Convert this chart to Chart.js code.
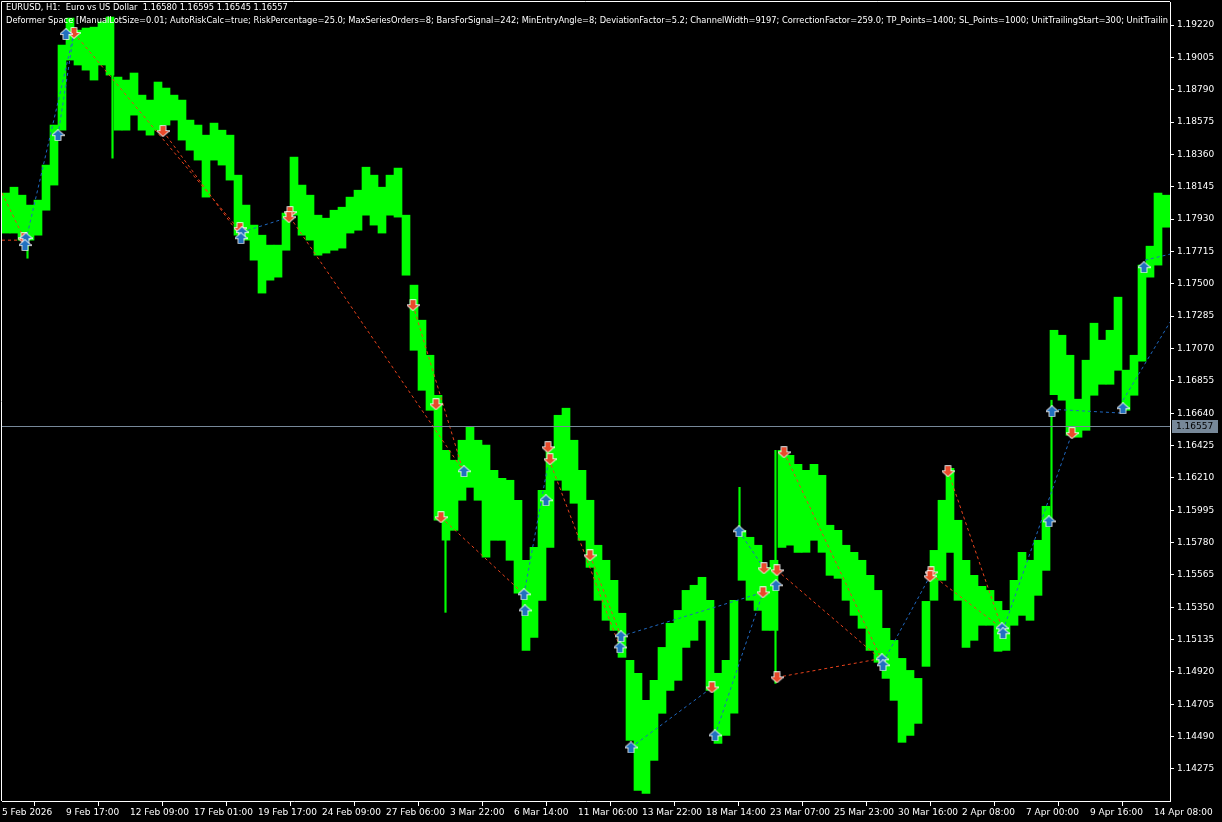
<!DOCTYPE html>
<html><head><meta charset="utf-8">
<script src="https://cdn.jsdelivr.net/npm/chart.js@4.4.1/dist/chart.umd.min.js"></script>
<style>html,body{margin:0;padding:0;background:#000;overflow:hidden}#wrap{width:1222px;height:822px;position:relative}canvas{display:block}</style>
</head><body><div id="wrap"><canvas id="c" width="1222" height="822"></canvas></div>
<script>
// ---------- text ----------
const symbolTitle = "EURUSD, H1:  Euro vs US Dollar  1.16580 1.16595 1.16545 1.16557";
const expertTitle = "Deformer Space [ManualLotSize=0.01; AutoRiskCalc=true; RiskPercentage=25.0; MaxSeriesOrders=8; BarsForSignal=242; MinEntryAngle=8; DeviationFactor=5.2; ChannelWidth=9197; CorrectionFactor=259.0; TP_Points=1400; SL_Points=1000; UnitTrailingStart=300; UnitTrailin";

// ---------- price bars (each entry = 8 H1 bars, high / low) ----------
const hoursPerBar = 8;
const barHigh = [
1.18103,1.18142,1.18089,1.18023,1.18056,1.18289,1.18555,1.19087,1.19266,1.19186,
1.19200,1.19206,1.19240,1.19273,1.18874,1.18854,1.18901,1.18754,1.18721,1.18841,
1.18801,1.18754,1.18721,1.18588,1.18555,1.18488,1.18568,1.18521,1.18488,1.18222,
1.18023,1.17890,1.17823,1.17757,1.17757,1.17970,1.18342,1.18156,1.18089,1.17956,
1.17936,1.17989,1.18009,1.18076,1.18122,1.18275,1.18222,1.18142,1.18222,1.18269,
1.17956,1.17491,1.17258,1.17025,1.16759,1.16393,1.16327,1.16460,1.16546,1.16460,
1.16427,1.16260,1.16207,1.16194,1.16061,1.15662,1.15748,1.16127,1.16413,1.16626,
1.16673,1.16460,1.16260,1.16061,1.15762,1.15662,1.15529,1.15310,1.14997,1.14911,
1.14731,1.14864,1.15083,1.15243,1.15329,1.15462,1.15496,1.15549,1.15396,1.14911,
1.14997,1.15396,1.15861,1.15815,1.15762,1.15615,1.15662,1.16393,1.16360,1.16300,
1.16260,1.16300,1.16227,1.15895,1.15861,1.15762,1.15715,1.15662,1.15562,1.15462,
1.15210,1.15130,1.15010,1.14930,1.14877,1.15389,1.15728,1.16061,1.16274,1.15928,
1.15662,1.15562,1.15489,1.15462,1.15389,1.15329,1.15529,1.15715,1.15662,1.15795,
1.16021,1.17191,1.17158,1.17025,1.16733,1.16992,1.17238,1.17125,1.17191,1.17411,
1.16926,1.17025,1.17624,1.17750,1.18103,1.18089];
const barLow = [
1.17837,1.17837,1.17790,1.17790,1.17823,1.17989,1.18156,1.18521,1.18987,1.18954,
1.18920,1.18854,1.18954,1.18887,1.18521,1.18521,1.18621,1.18521,1.18488,1.18521,
1.18555,1.18588,1.18455,1.18388,1.18322,1.18076,1.18322,1.18289,1.18189,1.17823,
1.17790,1.17657,1.17438,1.17524,1.17544,1.17723,1.17956,1.17823,1.17790,1.17690,
1.17704,1.17723,1.17737,1.17837,1.17856,1.17956,1.17890,1.17837,1.17956,1.17943,
1.17557,1.17058,1.16792,1.16659,1.15928,1.15795,1.15861,1.16061,1.16147,1.16061,
1.15682,1.15795,1.15795,1.15662,1.15443,1.15063,1.15150,1.15396,1.15748,1.16194,
1.16127,1.16041,1.15795,1.15615,1.15396,1.15263,1.15196,1.15017,1.14465,1.14132,
1.14113,1.14332,1.14645,1.14797,1.14864,1.15083,1.15130,1.15263,1.14797,1.14445,
1.14498,1.14645,1.15529,1.15396,1.15329,1.15196,1.15196,1.15748,1.15762,1.15715,
1.15715,1.15795,1.15715,1.15562,1.15542,1.15396,1.15296,1.15210,1.15063,1.14984,
1.14877,1.14731,1.14452,1.14498,1.14578,1.14957,1.15396,1.15529,1.15715,1.15396,
1.15083,1.15130,1.15230,1.15230,1.15057,1.15063,1.15230,1.15296,1.15263,1.15429,
1.15595,1.16763,1.16726,1.16493,1.16480,1.16526,1.16759,1.16832,1.16832,1.16925,
1.16659,1.16759,1.16985,1.17544,1.17624,1.17876];

// single-hour spikes sticking out of the bars above: hour, high, low
const spikeHours = [25, 110, 443, 737, 773, 1049];
const spikeHigh  = [1.17856, 1.19120, 1.16260, 1.16147, 1.16393, 1.16726];
const spikeLow   = [1.17670, 1.18335, 1.15316, 1.15662, 1.14844, 1.15921];

// ---------- axes ----------
const xTickHours = [0,64,128,192,256,320,384,448,512,576,640,704,768,832,896,960,1024,1088,1152];
const xTickLabels = ["5 Feb 2026","9 Feb 17:00","12 Feb 09:00","17 Feb 01:00","19 Feb 17:00","24 Feb 09:00","27 Feb 06:00","3 Mar 22:00","6 Mar 14:00","11 Mar 06:00","13 Mar 22:00","18 Mar 14:00","23 Mar 07:00","25 Mar 23:00","30 Mar 16:00","2 Apr 08:00","7 Apr 00:00","9 Apr 16:00","14 Apr 08:00"];
const yTickValues = [1.14275,1.14490,1.14705,1.14920,1.15135,1.15350,1.15565,1.15780,1.15995,1.16210,1.16425,1.16640,1.16855,1.17070,1.17285,1.17500,1.17715,1.17930,1.18145,1.18360,1.18575,1.18790,1.19005,1.19220];
const lastPrice = 1.16557;

// ---------- trade markers ----------
const buyHours  = [24,23,56,64,240,239,462,544,522,523,619,618,629,713,737,774,880,881,1000,1001,1047,1050,1121,1142];
const buyPrices = [1.17803,1.17757,1.18488,1.19160,1.17843,1.17803,1.16254,1.16061,1.15436,1.15329,1.15157,1.15083,1.14418,1.14498,1.15855,1.15496,1.15004,1.14964,1.15210,1.15177,1.15921,1.16653,1.16673,1.17610];
const sellHours  = [22,72,161,238,288,287,411,434,439,546,548,588,710,762,775,761,775,782,929,928,946,1070];
const sellPrices = [1.17803,1.19167,1.18515,1.17870,1.17976,1.17943,1.17358,1.16699,1.15948,1.16413,1.16334,1.15695,1.14817,1.15609,1.15595,1.15449,1.14884,1.16380,1.15582,1.15556,1.16254,1.16507];

// trade connection lines: [hourFrom, priceFrom, hourTo, priceTo]
const buyLines = [
[24,1.17790,72,1.19167],[56,1.18488,72,1.19167],[240,1.17843,287,1.17943],
[522,1.15436,547,1.16334],[619,1.15157,761,1.15449],[629,1.14418,710,1.14817],
[713,1.14498,761,1.15449],[737,1.15855,762,1.15609],[881,1.14984,929,1.15569],
[1001,1.15196,1070,1.16507],[1050,1.16666,1121,1.16640],[1121,1.16726,1168,1.17245],
[1143,1.17657,1168,1.17697]];
const sellLines = [
[0,1.17790,22,1.17790],[0,1.18103,22,1.17803],[72,1.19167,239,1.17843],
[161,1.18515,240,1.17803],[288,1.17943,461,1.16260],[411,1.17358,461,1.16260],
[439,1.15948,522,1.15436],[547,1.16334,618,1.15083],[588,1.15695,619,1.15157],
[775,1.15595,880,1.14997],[775,1.14884,880,1.15010],[782,1.16380,880,1.14997],
[929,1.15569,1000,1.15210],[946,1.16254,1000,1.15210]];

// ---------- styling ----------
const yMin = 1.14062, yMax = 1.19373, xMax = 1168;
const GREEN = '#00ff00', BLUE_LINE = '#1f68c0', RED_LINE = '#e8421c';
const FONT = 'DejaVu Sans';

function makeArrow(up, fill){
  const c = document.createElement('canvas'); c.width = 13; c.height = 12;
  const g = c.getContext('2d');
  const pts = [[6.5,1],[12,6],[9,6],[9,11],[4,11],[4,6],[1,6]];
  g.beginPath();
  pts.forEach(([x,y],i)=>{ const yy = up ? y : 12 - y; if(i) g.lineTo(x,yy); else g.moveTo(x,yy); });
  g.closePath();
  g.strokeStyle = '#ffffff'; g.lineWidth = 1.6; g.stroke();
  g.fillStyle = fill; g.fill();
  return c;
}
const buyArrow = makeArrow(true, '#2270bf');
const sellArrow = makeArrow(false, '#e94a2b');

const datasets = [];
datasets.push({
  type:'line', order:0, showLine:false, pointStyle:buyArrow, pointRadius:6,
  data: buyHours.map((h,i)=>({x:h, y:buyPrices[i]}))
});
datasets.push({
  type:'line', order:0, showLine:false, pointStyle:sellArrow, pointRadius:6,
  data: sellHours.map((h,i)=>({x:h, y:sellPrices[i]}))
});
buyLines.forEach(s=>datasets.push({type:'line', order:1, borderColor:BLUE_LINE, borderWidth:1, borderDash:[3,3], pointRadius:0, data:[{x:s[0],y:s[1]},{x:s[2],y:s[3]}]}));
sellLines.forEach(s=>datasets.push({type:'line', order:1, borderColor:RED_LINE, borderWidth:1, borderDash:[3,3], pointRadius:0, data:[{x:s[0],y:s[1]},{x:s[2],y:s[3]}]}));
datasets.push({
  type:'bar', order:2, backgroundColor:GREEN, borderWidth:0, grouped:false, barThickness:8,
  data: barHigh.map((hi,i)=>({x:i*hoursPerBar + hoursPerBar/2, y:[barLow[i], hi]}))
});
datasets.push({
  type:'bar', order:2, backgroundColor:GREEN, borderWidth:0, grouped:false, barThickness:1.5,
  data: spikeHours.map((h,i)=>({x:h + 0.5, y:[spikeLow[i], spikeHigh[i]]}))
});

const bgPlugin = {
  id:'bg',
  beforeDraw(chart){ const g = chart.ctx; g.save(); g.fillStyle = '#000'; g.fillRect(0,0,chart.width,chart.height); g.restore(); }
};
const overlayPlugin = {
  id:'overlay',
  afterDatasetsDraw(chart){
    const g = chart.ctx, a = chart.chartArea, ys = chart.scales.y;
    const py = Math.round(ys.getPixelForValue(lastPrice)) + 0.5;
    g.save();
    g.strokeStyle = '#778899'; g.lineWidth = 1;
    g.beginPath(); g.moveTo(a.left, py); g.lineTo(a.right, py); g.stroke();
    g.restore();
  },
  afterDraw(chart){
    const g = chart.ctx, a = chart.chartArea, ys = chart.scales.y;
    g.save();
    g.strokeStyle = '#ffffff'; g.lineWidth = 1;
    g.beginPath(); g.moveTo(a.left - 0.5, a.bottom); g.lineTo(a.left - 0.5, a.top - 0.5); g.lineTo(a.right, a.top - 0.5); g.stroke();
    const py = Math.round(ys.getPixelForValue(lastPrice));
    g.fillStyle = '#778899';
    g.fillRect(a.right + 2, py - 6, 46, 13);
    g.fillStyle = '#000';
    g.font = '9px "' + FONT + '"';
    g.textBaseline = 'middle'; g.textAlign = 'left';
    g.fillText(lastPrice.toFixed(5), a.right + 6, py + 1);
    g.beginPath(); g.rect(a.left, 0, a.right - a.left - 2, 40); g.clip();
    g.fillStyle = '#ffffff';
    g.font = '9px "' + FONT + '"';
    const w = g.measureText(expertTitle).width;
    const sx = (1168 - 6) / w;
    g.save(); g.translate(6, 0); g.scale(sx, 1);
    g.fillText(symbolTitle, 0, 8);
    g.fillText(expertTitle, 0, 21);
    g.restore();
    g.restore();
  }
};

function zeroPad(s){ s.paddingTop = 0; s.paddingBottom = 0; s.paddingLeft = 0; s.paddingRight = 0; }

new Chart(document.getElementById('c'), {
  type:'bar',
  data:{datasets},
  options:{
    responsive:false, animation:false, devicePixelRatio:1,
    layout:{autoPadding:false, padding:{left:2, top:2, right:0, bottom:0}},
    plugins:{legend:{display:false}, tooltip:{enabled:false}},
    scales:{
      x:{
        type:'linear', min:0, max:xMax, offset:false,
        afterBuildTicks(s){ s.ticks = xTickHours.map(v=>({value:v})); },
        afterFit(s){ s.height = 21; zeroPad(s); },
        grid:{drawOnChartArea:false, drawTicks:true, tickLength:5, color:'#ffffff'},
        border:{display:true, color:'#ffffff'},
        ticks:{autoSkip:false, maxRotation:0, minRotation:0, align:'start', padding:1, color:'#ffffff',
               font:{family:FONT, size:9}, callback:(v,i)=>xTickLabels[i]}
      },
      y:{
        position:'right', min:yMin, max:yMax,
        afterBuildTicks(s){ s.ticks = yTickValues.map(v=>({value:v})); },
        afterFit(s){ s.width = 52; zeroPad(s); },
        grid:{drawOnChartArea:false, drawTicks:true, tickLength:4, color:'#ffffff'},
        border:{display:true, color:'#ffffff'},
        ticks:{padding:3, color:'#ffffff', font:{family:FONT, size:9}, callback:v=>Number(v).toFixed(5)}
      }
    }
  },
  plugins:[bgPlugin, overlayPlugin]
});
</script></body></html>
